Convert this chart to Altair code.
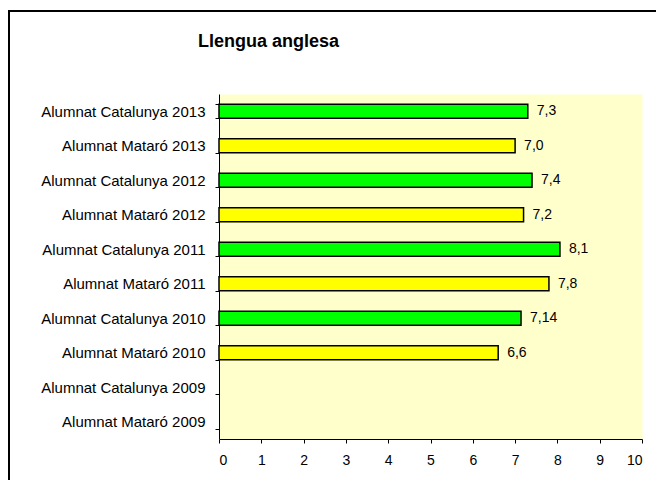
import altair as alt
import pandas as pd

categories = [
    "Alumnat Catalunya 2013", "Alumnat Mataró 2013",
    "Alumnat Catalunya 2012", "Alumnat Mataró 2012",
    "Alumnat Catalunya 2011", "Alumnat Mataró 2011",
    "Alumnat Catalunya 2010", "Alumnat Mataró 2010",
    "Alumnat Catalunya 2009", "Alumnat Mataró 2009",
]
groups = ["Catalunya", "Mataró"] * 5
values = [7.3, 7.0, 7.4, 7.2, 8.06, 7.8, 7.14, 6.6, None, None]
labels = ["7,3", "7,0", "7,4", "7,2", "8,1", "7,8", "7,14", "6,6", "", ""]
x_ticks = list(range(0, 11))

df = pd.DataFrame({"cat": categories, "grp": groups, "val": values, "lab": labels})

FONT = "Liberation Sans"

y_enc = alt.Y("cat:N", sort=categories, title=None,
              scale=alt.Scale(paddingInner=0.6, paddingOuter=0.3),
              axis=alt.Axis(tickBand="extent", tickSize=4, labelPadding=10,
                            labelFontSize=15, labelFont=FONT, labelColor="black",
                            domainColor="black", tickColor="black", labelLimit=300))
x_enc = alt.X("val:Q", title=None,
              scale=alt.Scale(domain=[0, 10], nice=False),
              axis=alt.Axis(values=x_ticks, tickSize=4, labelPadding=10, grid=False,
                            labelFontSize=14, labelFont=FONT, labelColor="black",
                            domainColor="black", tickColor="black", format="d"))

bars = alt.Chart(df).mark_bar(stroke="black", strokeWidth=1.5).encode(
    x=x_enc,
    y=y_enc,
    color=alt.Color("grp:N", legend=None,
                    scale=alt.Scale(domain=["Catalunya", "Mataró"],
                                    range=["#00FF00", "#FFFF00"])),
)

text = alt.Chart(df).mark_text(align="left", dx=9, fontSize=14, font=FONT,
                               color="black").encode(
    x="val:Q",
    y=alt.Y("cat:N", sort=categories),
    text="lab:N",
)

frame = alt.Chart(pd.DataFrame({"a": [0]})).mark_rect(
    fill="transparent", stroke="black", strokeWidth=2
).encode(
    x=alt.value(-210), x2=alt.value(460),
    y=alt.value(-83), y2=alt.value(420),
)

chart = alt.layer(bars, text, frame).properties(
    width=423, height=345,
    title=alt.TitleParams("Llengua anglesa", font=FONT, fontSize=18, fontWeight="bold",
                          anchor="start", frame="group", dx=-21, offset=-41,
                          color="black"),
    autosize=alt.AutoSizeParams(type="none"),
    padding={"left": 211, "top": 86, "right": 14, "bottom": 41},
).configure(
    background="white",
    view=alt.ViewConfig(fill="#FFFFCC", stroke="transparent"),
)

chart.save("out.html", embed_options={"renderer": "svg", "actions": False})
